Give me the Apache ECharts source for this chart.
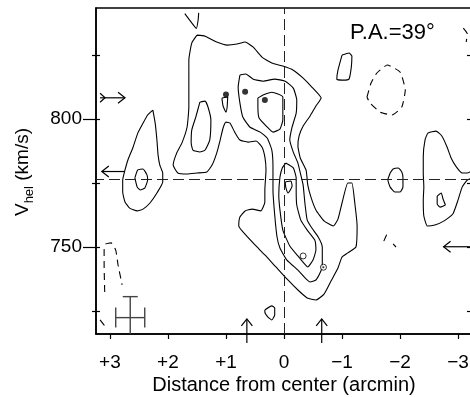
<!DOCTYPE html>
<html>
<head>
<meta charset="utf-8">
<script src="https://cdn.jsdelivr.net/npm/echarts@6.0.0/dist/echarts.min.js"></script>
<style>
  html, body { margin: 0; padding: 0; background: #fff; }
  #chart { width: 470px; height: 397px; }
</style>
</head>
<body>
<div id="chart"></div>
<script>
  const FONT = '"Liberation Sans", Arial, sans-serif';

  // axes
  const xTicks = [-3, -2, -1, 0, 1, 2, 3];
  const vMajor = [750, 800];
  const vMinor = [725, 775, 825];
  const vAll = [725, 750, 775, 800, 825];
  const centerX = 0;
  const centerV = 776.6;

  // contours: [distance (arcmin), V_hel (km/s)]
  const outer = [[1.50,832.8],[1.36,832.4],[1.16,830.1],[0.98,828.9],[0.81,829.3],[0.67,830.1],[0.53,828.1],[0.38,824.2],[0.21,821.9],[0.02,820.7],[-0.16,819.1],[-0.33,816.0],[-0.48,812.5],[-0.64,808.2],[-0.55,805.1],[-0.45,801.2],[-0.33,797.3],[-0.26,793.4],[-0.24,789.5],[-0.28,784.8],[-0.38,780.1],[-0.41,774.2],[-0.47,769.1],[-0.55,764.5],[-0.69,760.2],[-0.85,758.2],[-0.93,760.9],[-1.00,767.2],[-1.10,775.0],[-1.17,775.0],[-1.22,767.2],[-1.26,758.2],[-1.24,750.0],[-1.10,747.7],[-1.00,746.1],[-0.93,741.8],[-0.81,736.7],[-0.69,731.6],[-0.55,729.3],[-0.40,730.1],[-0.24,733.2],[-0.05,737.5],[0.14,742.2],[0.33,746.9],[0.50,750.8],[0.66,754.7],[0.78,758.2],[0.76,761.7],[0.67,764.1],[0.55,764.8],[0.40,764.1],[0.33,767.6],[0.33,772.3],[0.31,780.1],[0.33,785.2],[0.38,789.1],[0.48,791.4],[0.62,791.0],[0.76,791.8],[0.85,794.9],[0.93,798.4],[1.00,798.8],[1.05,796.5],[1.10,791.8],[1.16,786.7],[1.24,782.0],[1.33,779.3],[1.50,778.9],[1.67,778.5],[1.83,778.9],[1.91,782.0],[1.85,786.7],[1.76,790.6],[1.67,796.9],[1.64,804.7],[1.64,814.1],[1.64,823.0],[1.59,829.7]];
  const middle = [[0.76,817.2],[0.66,817.6],[0.53,815.6],[0.36,814.8],[0.16,815.6],[-0.02,814.8],[-0.16,812.1],[-0.22,807.4],[-0.21,802.3],[-0.14,796.9],[-0.10,791.8],[-0.16,787.1],[-0.24,782.8],[-0.29,778.1],[-0.33,774.2],[-0.36,767.2],[-0.40,760.5],[-0.48,757.4],[-0.59,753.9],[-0.66,750.0],[-0.66,746.1],[-0.66,742.6],[-0.62,739.8],[-0.55,737.1],[-0.45,736.3],[-0.24,741.0],[-0.05,744.9],[0.07,749.6],[0.12,753.9],[0.16,762.5],[0.19,772.3],[0.19,781.3],[0.21,787.9],[0.29,792.6],[0.41,794.9],[0.59,796.9],[0.71,800.8],[0.76,806.3],[0.79,812.5]];
  const ridge = [[-0.03,782.8],[0.03,780.9],[0.07,777.3],[0.09,770.3],[0.07,764.5],[0.02,756.6],[-0.10,750.4],[-0.24,746.5],[-0.41,742.2],[-0.50,744.9],[-0.55,748.8],[-0.53,752.7],[-0.40,756.6],[-0.29,760.5],[-0.22,766.4],[-0.21,772.3],[-0.21,777.0],[-0.16,780.9]];
  const peak = [[-0.02,775.4],[-0.12,775.8],[-0.14,773.8],[-0.07,771.1],[-0.03,773.4]];
  const upperCore = [[0.45,808.2],[0.36,809.4],[0.21,810.5],[0.02,808.6],[0.02,799.6],[0.07,796.1],[0.19,794.9],[0.29,796.9],[0.43,800.4],[0.45,805.1]];
  const sliver = [[1.07,808.2],[0.97,808.6],[0.98,804.7],[1.00,802.7],[1.05,805.1]];
  const lobeCore = [[1.45,806.6],[1.36,807.0],[1.31,804.7],[1.26,799.6],[1.28,791.8],[1.36,787.9],[1.45,787.1],[1.57,787.9],[1.60,790.6],[1.59,795.7],[1.52,800.8]];
  const eastBlob = [[2.26,803.5],[2.35,801.6],[2.43,798.4],[2.52,794.5],[2.60,789.1],[2.69,784.0],[2.74,780.1],[2.78,776.2],[2.78,771.5],[2.74,767.6],[2.66,765.2],[2.53,764.1],[2.43,764.8],[2.31,767.2],[2.19,771.1],[2.09,775.4],[2.09,778.9],[2.14,782.0],[2.17,785.9],[2.19,791.8],[2.22,798.4]];
  const eastCore = [[2.57,777.0],[2.52,780.1],[2.43,780.5],[2.36,778.1],[2.35,776.2],[2.40,773.0],[2.48,772.3],[2.53,773.4]];
  const northSpot = [[-1.00,825.0],[-1.12,825.8],[-1.17,824.6],[-1.16,820.3],[-1.12,815.6],[-1.02,815.2],[-0.91,815.6],[-0.93,819.1]];
  const westSpot = [[-1.83,778.9],[-1.88,780.5],[-1.97,780.9],[-2.03,779.3],[-2.05,777.0],[-2.05,773.4],[-2.00,771.5],[-1.91,771.5],[-1.83,773.4],[-1.79,776.2]];
  const westBlob = [[-3.26,780.1],[-3.16,778.9],[-3.07,778.9],[-2.97,781.3],[-2.88,784.8],[-2.81,789.1],[-2.72,793.4],[-2.62,795.3],[-2.48,794.5],[-2.43,791.8],[-2.40,785.2],[-2.40,778.9],[-2.41,773.4],[-2.40,768.4],[-2.41,762.1],[-2.47,758.2],[-2.60,758.6],[-2.76,760.2],[-2.91,762.9],[-3.00,768.4],[-3.07,773.4],[-3.16,776.2],[-3.26,777.0]];
  const westCore = [[-2.64,769.9],[-2.71,771.1],[-2.74,768.8],[-2.78,766.4],[-2.69,765.6],[-2.64,766.8]];
  const southSpot = [[0.33,725.4],[0.21,727.0],[0.16,726.2],[0.16,723.4],[0.21,721.5],[0.28,722.7],[0.33,724.6]];
  const topFragment = [[1.71,841.2],[1.59,837.6],[1.51,835.4],[1.48,838.7],[1.47,841.5]];

  // negative (dashed) contours
  const negLoop = [[-1.43,808.6],[-1.50,814.1],[-1.60,818.0],[-1.78,821.1],[-2.00,818.4],[-2.09,811.3],[-2.03,804.7],[-1.86,801.6],[-1.66,802.7],[-1.48,806.3]];
  const negCorner = [[3.09,732.4],[3.10,743.0],[3.10,748.8],[3.07,751.2],[2.98,751.6],[2.90,748.8],[2.86,743.0],[2.79,735.2]];
  const negCorner2 = [[3.17,721.5],[3.05,718.0]];
  const negBit1 = [[-1.72,752.3],[-1.79,755.9]];
  const negBit2 = [[-1.88,751.2],[-1.93,750.0]];
  const negEdge = [[-3.09,835.5],[-3.16,833.2],[-3.14,830.1]];

  // markers
  const filledPts = [[1.00, 809.6], [0.67, 810.7], [0.33, 807.4]];
  const openPts = [[-0.33, 746.5], [-0.68, 742.1]];
  const dotPts = [[-0.68, 742.1]];

  // arrows: [x from, v from, x to, v to, tail]
  const arrows = [
    [3.17, 808.3, 2.74, 808.3, 1],
    [2.74, 779.5, 3.14, 779.5, 0],
    [-3.26, 750.1, -2.75, 750.1, 0],
    [0.64, 712.5, 0.64, 721.9, 0],
    [-0.65, 712.5, -0.65, 721.9, 0]
  ];
  // error bar: [x, v, dx, dv]
  const errBar = [[2.65, 722.4, 0.25, 8.2]];

  const ring = (pts) => pts.concat([pts[0]]);

  const contour = (pts, dashed) => ({
    type: 'line',
    data: pts,
    symbol: 'none',
    smooth: 0.15,
    silent: true,
    z: 3,
    lineStyle: { color: '#000', width: 1.1, type: dashed ? [7, 5] : 'solid' }
  });

  const solid = [outer, middle, ridge, peak, upperCore, sliver, lobeCore, eastBlob, eastCore,
    northSpot, westSpot, westCore, southSpot].map(ring).concat([westBlob, topFragment]);
  const dashed = [ring(negLoop), negCorner, negCorner2, negBit1, negBit2, negEdge];

  function renderArrow(params, api) {
    const a = api.coord([api.value(0), api.value(1)]);
    const b = api.coord([api.value(2), api.value(3)]);
    const len = Math.hypot(b[0] - a[0], b[1] - a[1]) || 1;
    const ux = (b[0] - a[0]) / len, uy = (b[1] - a[1]) / len;
    const chevron = (t, back, half) => [
      [t[0] - ux * back - uy * half, t[1] - uy * back + ux * half],
      t,
      [t[0] - ux * back + uy * half, t[1] - uy * back - ux * half]
    ];
    const style = { stroke: '#000', lineWidth: 1.2, fill: 'none' };
    const kids = [
      { type: 'line', shape: { x1: a[0], y1: a[1], x2: b[0], y2: b[1] }, style },
      { type: 'polyline', shape: { points: chevron(b, 7, 5.5) }, style }
    ];
    if (api.value(4)) {
      kids.push({ type: 'polyline', shape: { points: chevron([a[0] + ux * 5, a[1] + uy * 5], 5, 4.5) }, style });
    }
    return { type: 'group', children: kids };
  }

  function renderErrBar(params, api) {
    const x = api.value(0), v = api.value(1), dx = api.value(2), dv = api.value(3);
    const l = api.coord([x + dx, v]), r = api.coord([x - dx, v]);
    const t = api.coord([x, v + dv]), b = api.coord([x, v - dv]);
    const style = { stroke: '#444', lineWidth: 1.4 };
    const seg = (p, q) => ({ type: 'line', shape: { x1: p[0], y1: p[1], x2: q[0], y2: q[1] }, style });
    return {
      type: 'group',
      children: [
        seg(l, r), seg(t, b),
        seg([l[0], l[1] - 10], [l[0], l[1] + 10]),
        seg([r[0], r[1] - 10], [r[0], r[1] + 10]),
        seg([t[0] - 7.5, t[1]], [t[0] + 7.5, t[1]]),
        seg([b[0] - 7.5, b[1]], [b[0] + 7.5, b[1]])
      ]
    };
  }

  const chart = echarts.init(document.getElementById('chart'));

  const yBase = { type: 'value', min: 716, max: 843.4, splitLine: { show: false } };
  const tickStyle = { color: '#000', width: 1.2 };

  const option = {
    animation: false,
    backgroundColor: '#fff',
    grid: {
      left: 96, top: 8, width: 376, height: 326,
      outerBoundsMode: 'none', containLabel: false,
      show: true, borderColor: '#000', borderWidth: 1.5
    },
    xAxis: {
      type: 'value',
      min: -3.24,
      max: 3.24,
      inverse: true,
      splitLine: { show: false },
      axisLine: { show: true, onZero: false, lineStyle: { color: '#000', width: 1.5 } },
      axisTick: { customValues: xTicks, length: 5, lineStyle: tickStyle },
      axisLabel: {
        customValues: xTicks,
        margin: 19,
        fontSize: 19,
        fontFamily: FONT,
        color: '#000',
        formatter: (v) => (v > 0 ? '+' + v : v < 0 ? '\u2212' + Math.abs(v) : '0')
      }
    },
    yAxis: [
      Object.assign({}, yBase, {
        position: 'left',
        axisLine: { show: true, onZero: false, lineStyle: { color: '#000', width: 1.5 } },
        axisTick: { customValues: vMajor, length: 13, lineStyle: tickStyle },
        axisLabel: { customValues: vMajor, margin: 14, fontSize: 19, fontFamily: FONT, color: '#000' }
      }),
      Object.assign({}, yBase, {
        position: 'left',
        axisLine: { show: false, onZero: false },
        axisTick: { customValues: vAll, inside: true, length: 4, lineStyle: tickStyle },
        axisLabel: { show: false }
      }),
      Object.assign({}, yBase, {
        position: 'left',
        axisLine: { show: false, onZero: false },
        axisTick: { customValues: vMinor, length: 4, lineStyle: tickStyle },
        axisLabel: { show: false }
      }),
      Object.assign({}, yBase, {
        position: 'right',
        axisLine: { show: false, onZero: false },
        axisTick: { customValues: vAll, inside: true, length: 5, lineStyle: tickStyle },
        axisLabel: { show: false }
      })
    ],
    graphic: [
      {
        type: 'text', x: 350, y: 33,
        style: { text: 'P.A.=39°', fontSize: 22, fontFamily: FONT, fill: '#000', verticalAlign: 'middle' }
      },
      {
        type: 'text', x: 284, y: 385,
        style: { text: 'Distance from center (arcmin)', fontSize: 20, fontFamily: FONT, fill: '#000', align: 'center', verticalAlign: 'middle' }
      },
      {
        type: 'text', x: 23, y: 172, rotation: Math.PI / 2,
        style: {
          text: '{v|V}{s|hel}{v| (km/s)}',
          align: 'center',
          verticalAlign: 'middle',
          rich: {
            v: { fontSize: 19, fontFamily: FONT, fill: '#000', lineHeight: 26, verticalAlign: 'middle' },
            s: { fontSize: 13, fontFamily: FONT, fill: '#000', lineHeight: 14, verticalAlign: 'bottom' }
          }
        }
      }
    ],
    series: [
      Object.assign(contour(ring(outer), false), {
        markLine: {
          silent: true,
          symbol: ['none', 'none'],
          label: { show: false },
          lineStyle: { color: '#222', width: 1, type: [11, 5] },
          data: [{ xAxis: centerX }, { yAxis: centerV }]
        }
      })
    ]
      .concat(solid.slice(1).map((p) => contour(p, false)))
      .concat(dashed.map((p) => contour(p, true)))
      .concat([
        {
          type: 'custom', renderItem: renderArrow, data: arrows, clip: false, silent: true, z: 4,
          encode: { x: [0, 2], y: [1, 3] }
        },
        {
          type: 'custom', renderItem: renderErrBar, data: errBar, clip: true, silent: true, z: 4,
          encode: { x: 0, y: 1 }
        },
        {
          type: 'scatter', data: filledPts, symbol: 'circle', symbolSize: 6, silent: true, z: 5,
          itemStyle: { color: '#000' }
        },
        {
          type: 'scatter', data: openPts, symbol: 'circle', symbolSize: 6, silent: true, z: 5,
          itemStyle: { color: '#fff', borderColor: '#000', borderWidth: 1 }
        },
        {
          type: 'scatter', data: dotPts, symbol: 'circle', symbolSize: 2, silent: true, z: 6,
          itemStyle: { color: '#000' }
        }
      ])
  };

  chart.setOption(option);
</script>
</body>
</html>
